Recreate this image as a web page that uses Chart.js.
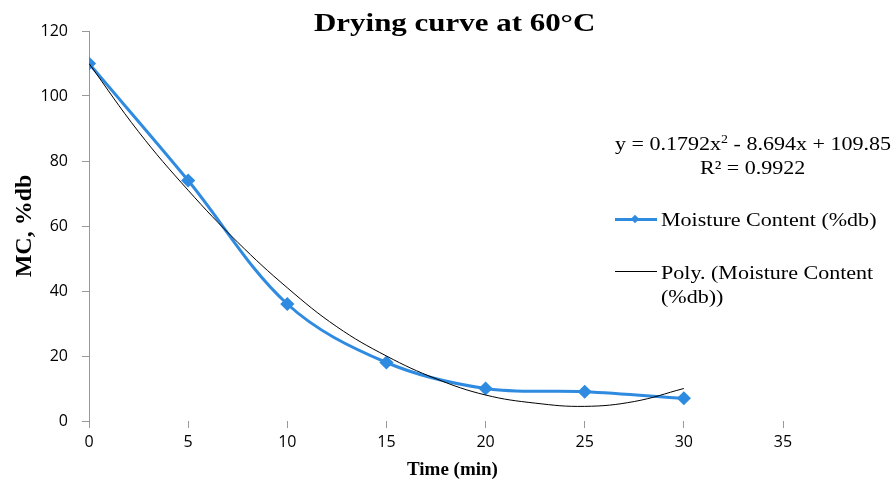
<!DOCTYPE html>
<html><head><meta charset="utf-8">
<script src="https://cdn.jsdelivr.net/npm/chart.js@4/dist/chart.umd.min.js"></script>
<style>
html,body{margin:0;padding:0;background:#fff;}
#wrap{position:relative;width:894px;height:481px;}
canvas{position:absolute;left:0;top:0;}
.t{position:absolute;font-family:"Liberation Serif","Times New Roman",serif;font-size:19px;color:#000;white-space:nowrap;line-height:1;transform:scaleX(1.16);transform-origin:0 0;}
.ln{position:absolute;height:0;}
#title{position:absolute;left:314px;top:10px;font-family:"Liberation Serif",serif;font-weight:bold;font-size:26px;line-height:1;white-space:nowrap;transform:scaleX(1.19);transform-origin:0 0;color:#000;}
#xtitle{position:absolute;left:407px;top:459px;font-family:"Liberation Serif",serif;font-weight:bold;font-size:19px;line-height:1;white-space:nowrap;color:#000;}
</style></head>
<body><div id="wrap"><canvas id="c" width="894" height="481"></canvas>
<div id="title">Drying curve at 60°C</div>
<div id="xtitle">Time (min)</div>
<div class="t" style="left:615px;top:134px;">y = 0.1792x<sup style="font-size:12px;vertical-align:7px;line-height:0">2</sup> - 8.694x + 109.85</div>
<div class="t" style="left:700px;top:158px;">R² = 0.9922</div>
<div class="ln" style="left:615px;top:218px;width:42px;border-top:3px solid #2f8be0;"></div>
<div style="position:absolute;left:632px;top:216px;width:6px;height:6px;background:#2f8be0;transform:rotate(45deg);"></div>
<div class="t" style="left:661px;top:210px;">Moisture Content (%db)</div>
<div class="ln" style="left:615px;top:271px;width:42px;border-top:1px solid #000;"></div>
<div class="t" style="left:661px;top:263px;">Poly. (Moisture Content</div>
<div class="t" style="left:661px;top:287px;">(%db))</div>
</div>
<script>
const timeMin = [0, 5, 10, 15, 20, 25, 30];
const moistureContent = [110, 74, 36, 18, 10, 9, 7];
const trendTime = [0, 2.5, 5, 7.5, 10, 12.5, 15, 17.5, 20, 22.5, 25, 27.5, 30];
const trendValues = [110, 89, 71, 55, 41, 29, 20, 13, 8, 5.5, 4.5, 6, 10];
const xTicks = [0, 5, 10, 15, 20, 25, 30, 35];
const yTicks = [0, 20, 40, 60, 80, 100, 120];

const tickFont = {family: "'Open Sans', sans-serif", size: 16};
new Chart(document.getElementById('c'), {
  type: 'line',
  data: {
    datasets: [
      {label: 'Poly. (Moisture Content (%db))', data: trendTime.map((x,i)=>({x, y: trendValues[i]})),
       borderColor: '#000', borderWidth: 1, pointRadius: 0, tension: 0.4, fill: false},
      {label: 'Moisture Content (%db)', data: timeMin.map((x,i)=>({x, y: moistureContent[i]})),
       borderColor: '#2f8be0', backgroundColor: '#2f8be0', borderWidth: 3, pointStyle: 'rectRot',
       pointRadius: 5, tension: 0.35, fill: false}
    ]
  },
  options: {
    responsive: false, animation: false,
    layout: {padding: {left: 0, right: 111, top: 31, bottom: 0}},
    plugins: {legend: {display: false}, tooltip: {enabled: false}, title: {display: false}},
    scales: {
      x: {type: 'linear', min: 0, max: 35,
        afterBuildTicks: s => { s.ticks = xTicks.map(v => ({value: v})); },
        grid: {drawOnChartArea: false, color: '#999', tickColor: '#999', tickLength: 7, offset: false},
        border: {display: false},
        ticks: {color: '#000', font: tickFont, padding: 5},
        title: {display: false},
        afterFit: s => { s.height = 60; }
      },
      y: {min: 0, max: 120,
        afterBuildTicks: s => { s.ticks = yTicks.map(v => ({value: v})); },
        grid: {drawOnChartArea: false, tickColor: '#999', tickLength: 7},
        border: {display: true, color: '#999', width: 1},
        ticks: {color: '#000', font: tickFont, padding: 14},
        title: {display: true, text: 'MC, %db', color: '#000', padding: {top: 10, bottom: 0},
          font: {family: "'Liberation Serif', serif", size: 24, weight: 'bold'}},
        afterFit: s => { s.width = 89; }
      }
    }
  }
});
</script></body></html>
